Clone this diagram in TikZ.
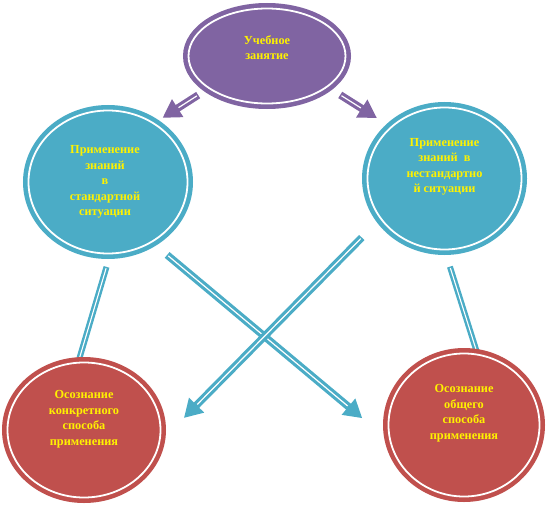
\documentclass[tikz,border=0pt]{standalone}
\usepackage{fontspec}
\setmainfont{Liberation Serif}
\usepackage{tikz}
\usetikzlibrary{arrows.meta,shapes.geometric,backgrounds,decorations}
\usepackage{xcolor}
\definecolor{ovalPurple}{HTML}{8064A2}
\definecolor{ovalTeal}{HTML}{4BACC6}
\definecolor{ovalRed}{HTML}{C0504D}

\begin{document}
\begin{tikzpicture}[x=1pt,y=-1pt,line cap=butt,
  ring/.style={ellipse,draw=#1,fill=#1,double=white,double distance=1.8pt,
    line width=4.6pt,inner sep=0pt,outer sep=0pt},
  txt/.style={text=yellow,align=center,inner sep=0pt,
    font=\bfseries\fontsize{12.3}{15.5}\selectfont},
  conn/.style n args={4}{draw=#1,line width=7.5pt,shorten <=#2,shorten >=#3,
    -{Triangle[length=18pt,width=20pt]},
    postaction={draw=white,line width=1.2pt,arrows=-,shorten <=#2+1.5pt,shorten >=#3+19pt,
      decorate,decoration={lineto,raise=#4}}},
  link/.style n args={3}{draw=ovalTeal,line width=6pt,shorten <=#1,shorten >=#2,
    postaction={draw=white,line width=1.1pt,shorten <=#1+1.5pt,shorten >=#2,
      decorate,decoration={lineto,raise=#3}}}]
\useasboundingbox (0,0) rectangle (546,506);
% ovals
\node[ring=ovalPurple,minimum width=157pt,minimum height=95pt] (lesson) at (267,56) {};
\node[ring=ovalTeal,minimum width=159pt,minimum height=143pt] (standard) at (108,182) {};
\node[ring=ovalTeal,minimum width=154pt,minimum height=142pt] (nonstandard) at (444.5,178.5) {};
\node[ring=ovalRed,minimum width=153pt,minimum height=135pt] (concrete) at (84,430) {};
\node[ring=ovalRed,minimum width=151pt,minimum height=143pt] (general) at (464,425) {};
% texts
\node[txt] (lessonText) at ([yshift=8.5pt]lesson.center) {Учебное\\занятие};
\node[txt] (standardText) at ([xshift=-3pt]standard.center) {Применение\\знаний\\в\\стандартной\\ситуации};
\node[txt] (nonstandardText) at ([yshift=11.5pt]nonstandard.center) {Применение\\знаний\ \ в\\нестандартно\\й ситуации};
\node[txt] (concreteText) at ([yshift=11pt]concrete.center) {Осознание\\конкретного\\способа\\применения};
\node[txt] (generalText) at ([yshift=12pt]general.center) {Осознание\\общего\\способа\\применения};
% arrows
\begin{pgfonlayer}{background}
\draw[conn={ovalPurple}{13pt}{10.5pt}{1.8pt}] (lesson.209) -- (standard.52);
\draw[conn={ovalPurple}{15.6pt}{17pt}{-1.8pt}] (lesson.333) -- (nonstandard.136);
\draw[conn={ovalTeal}{20.4pt}{37pt}{-1.8pt}] (standard.306) -- (general.193);
\draw[conn={ovalTeal}{27pt}{35.5pt}{1.8pt}] (nonstandard.212) -- (concrete.350);
\draw[link={14pt}{-3pt}{1.4pt}] (standard.272) -- (concrete.95);
\draw[link={18pt}{-3pt}{-1.4pt}] (nonstandard.270) -- (general.79);
\end{pgfonlayer}
\end{tikzpicture}
\end{document}
